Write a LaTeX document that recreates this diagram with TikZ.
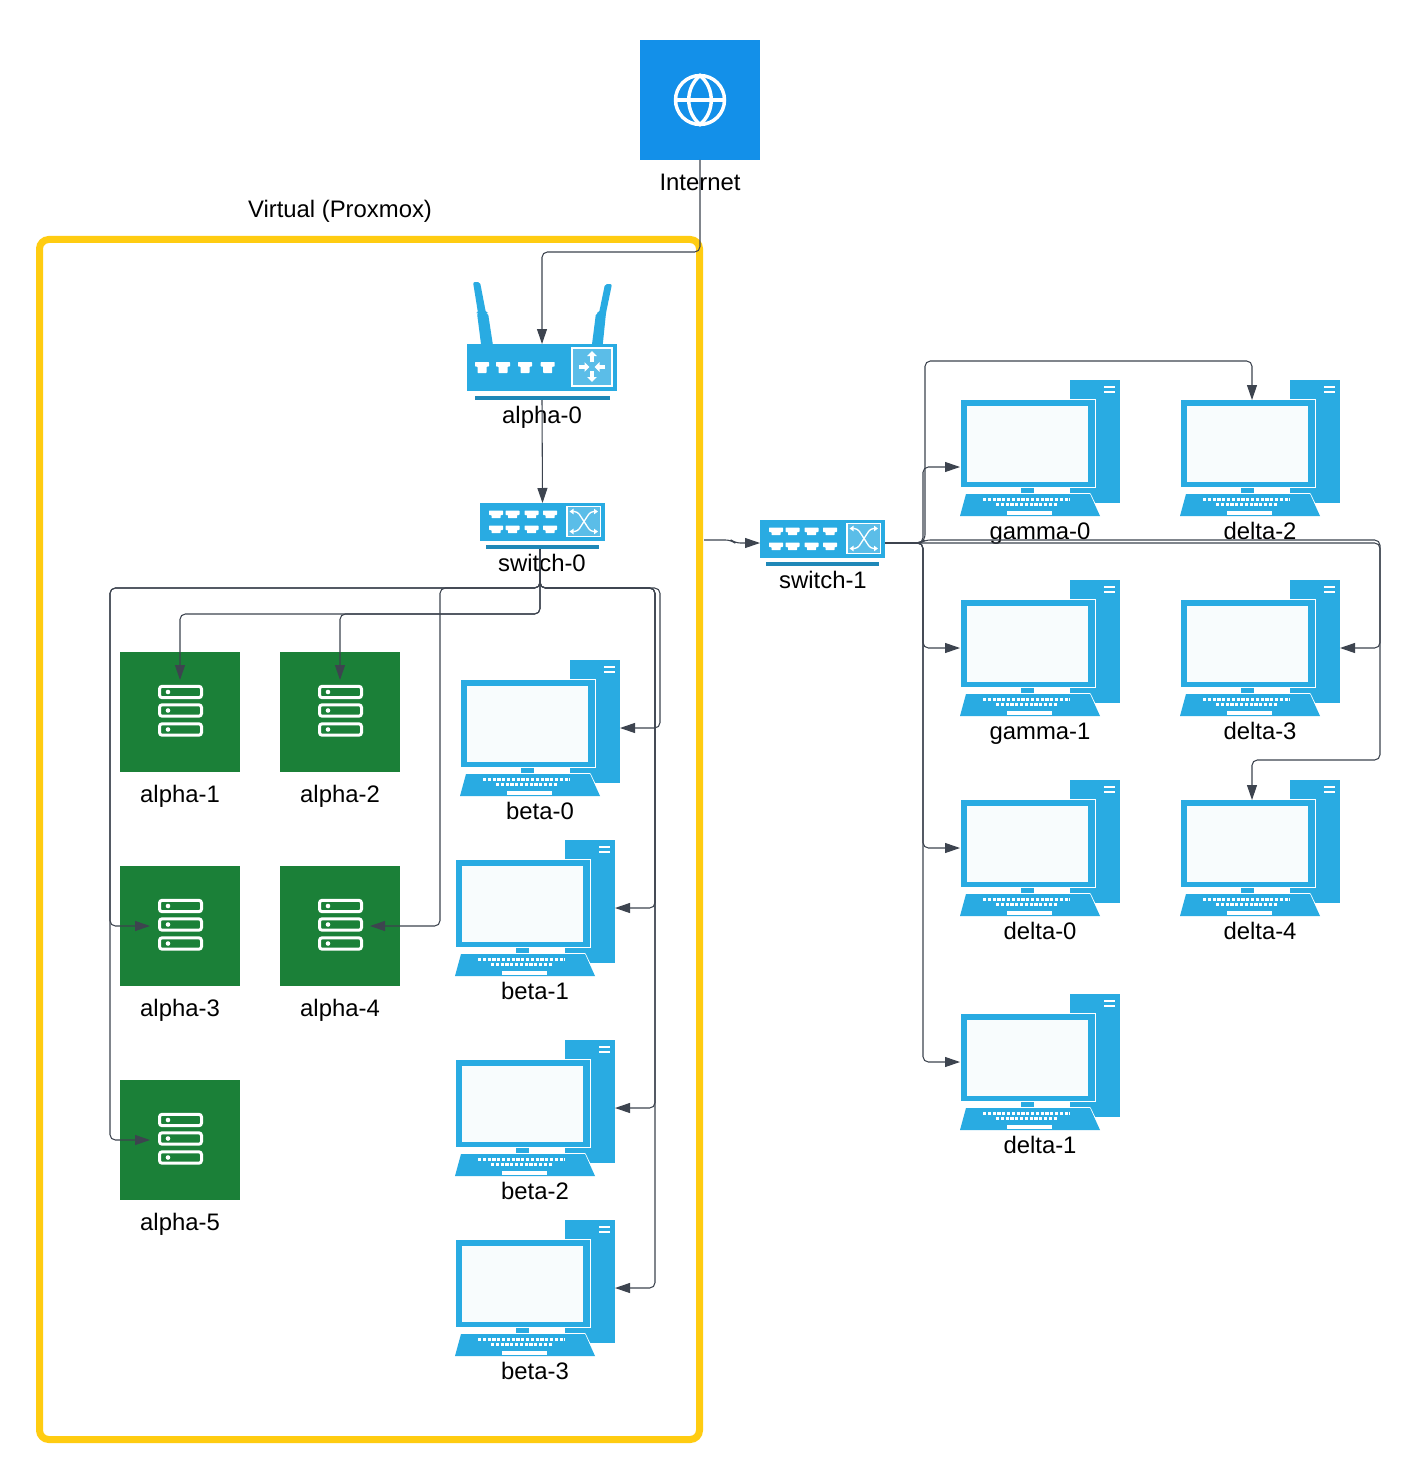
\documentclass[tikz,border=0pt]{standalone}
\usepackage{fontspec}
\setmainfont{Liberation Sans}
\usetikzlibrary{arrows.meta}

\definecolor{hostblue}{HTML}{29ABE2}
\definecolor{hostdark}{HTML}{1F88B8}
\definecolor{hostpale}{HTML}{5BBDE8}
\definecolor{screenwhite}{HTML}{F8FCFD}
\definecolor{webblue}{HTML}{1390E9}
\definecolor{servergreen}{HTML}{1B8038}
\definecolor{frameyellow}{HTML}{FFCC11}
\definecolor{linkgrey}{HTML}{3D444F}

\newcommand{\px}{0.75pt}
\newcommand{\porttee}[3]{\fill[white,rounded corners=0.5pt] (#1,#2) ++(-7,0) -- ++(14,0) -- ++(0,4.5) -- ++(-2.5,0) -- ++(0,#3) -- ++(-9,0) -- ++(0,-#3) -- ++(-2.5,0) -- cycle;}

\tikzset{
	lbl/.style = {inner sep = 0pt, font = \fontsize{17.9pt}{20pt}\selectfont, text height = 14.5pt, text depth = 3pt},
	hostbox/.style = {inner sep = 0pt, outer sep = 0pt, minimum width = 160*\px, minimum height = 136*\px},
	serverbox/.style = {fill = servergreen, inner sep = 0pt, outer sep = 0pt, minimum size = 120*\px},
	servercore/.style = {inner sep = 0pt, outer sep = 0pt, minimum width = 60*\px, minimum height = 64*\px},
	link/.style = {draw = linkgrey, line width = 0.8pt, rounded corners = 4pt, -{Triangle[width=7.5pt,length=11.25pt]}},
	pics/desktopicon/.style = {code = {
		\fill[hostblue] (30,-68) rectangle (80,55);
		\fill[white] (-80,-49) rectangle (56,40);
		\fill[hostblue] (-79,-48) rectangle (55,39);
		\fill[screenwhite] (-73,-42) rectangle (48,34);
		\draw[white,line width = 1.5pt] (64,-61) -- (75,-61) (64,-56) -- (75,-56);
		\fill[hostblue] (-19,39.5) rectangle (-6,45);
		\draw[white,line width = 0.8pt] (50,45.5) -- (61,68.5);
		\fill[white] (30,45) rectangle (50,46);
		\fill[hostblue] (-74,46) -- (50,46) -- (60,68) -- (-80,68) -- cycle;
		\draw[white,line width = 1.8pt,dash pattern = on 2.4pt off 1.2pt] (-57,51.5) -- (30,51.5);
		\draw[white,line width = 1.8pt,dash pattern = on 2.4pt off 1.2pt] (-44,56.5) -- (18,56.5);
		\fill[white] (-33,62.5) rectangle (12,67);
	}},
	pics/servericon/.style = {code = {
		\foreach \rowy in {-20,-1.5,17.5} {
			\draw[white,line width = 2.25pt,rounded corners = 2pt] (-21,\rowy-5.7) ++(0.5,0) rectangle ++(42,11.4);
			\fill[white] (-12,\rowy) circle (2.3);
		}
	}},
	pics/globeicon/.style = {code = {
		\draw[white,line width = 2.6pt] (0,0) circle (24.5);
		\draw[white,line width = 2.6pt] (0,-24.5) .. controls (15,-12) and (15,12) .. (0,24.5) .. controls (-15,12) and (-15,-12) .. (0,-24.5) -- cycle;
		\draw[white,line width = 2.6pt] (-24.5,0) -- (24.5,0);
	}},
	pics/routericon/.style = {code = {
		\fill[hostblue,rounded corners = 1.5pt] (-69,-90) -- (-62,-90) -- (-56,-59) -- (-54,-59) -- (-48,-20) -- (-60,-20) -- (-65,-59) -- (-64,-59) -- cycle;
		\fill[hostblue,rounded corners = 1.5pt] (63,-88) -- (70,-88) -- (64,-59) -- (60,-20) -- (49,-20) -- (54,-59) -- (57,-59) -- cycle;
		\fill[hostblue] (-75,-28) rectangle (75,19);
		\fill[hostdark] (-67.5,24) rectangle (67.5,28);
		\foreach \portx in {-60,-39,-17,5.7} {\porttee{\portx}{-10}{6.5}}
		\fill[hostpale,draw = white,line width = 0.8pt] (30,-24) rectangle (70,14);
		\begin{scope}[white,line width = 2.6pt,-{Triangle[width=7pt,length=3.75pt]}]
			\draw (50,-10) -- (50,-21);
			\draw (50,-1) -- (50,10);
			\draw (37,-5) -- (47.5,-5);
			\draw (63,-5) -- (52.5,-5);
		\end{scope}
	}},
	pics/switchicon/.style = {code = {
		\fill[hostblue] (-62.5,-23) rectangle (62.5,15);
		\fill[hostdark] (-56.5,19) rectangle (56.5,23);
		\foreach \portx in {-46.5,-30,-11,7.5} {
			\porttee{\portx}{-15.5}{3.2}
			\porttee{\portx}{-0.5}{3.2}
		}
		\fill[hostpale,draw = white,line width = 0.8pt] (24.5,-19.5) rectangle (58,10.5);
		\begin{scope}[white,line width = 1pt,rounded corners = 2.5pt,{Triangle[width=4pt,length=3pt]}-{Triangle[width=4pt,length=3pt]}]
			\draw (27,-14.5) -- (35,-14.5) -- (48,5.5) -- (55.5,5.5);
			\draw (27,5.5) -- (35,5.5) -- (48,-14.5) -- (55.5,-14.5);
		\end{scope}
	}}
}

\newcommand{\desktop}[4]{
	\node[hostbox] (#1) at (#2,#3) {};
	\pic at (#1) {desktopicon};
	\node[lbl] (#1label) at (#2,#3+84) {#4};
}
\newcommand{\server}[4]{
	\node[serverbox] (#1) at (#2,#3) {};
	\node[servercore] (#1core) at (#1) {};
	\pic at (#1) {servericon};
	\node[lbl] (#1label) at (#2,#3+83) {#4};
}

\begin{document}
\begin{tikzpicture}[x=0.75pt,y=-0.75pt]
	\useasboundingbox[fill=white] (0,0) rectangle (1420,1480);

	\node[draw=frameyellow,line width=5.25pt,rounded corners=7pt,inner sep=0pt,outer sep=0pt,minimum width=660*\px,minimum height=1200*\px] (frame) at (369.5,839.5) {};
	\node[lbl] (framelabel) at (340,210) {Virtual (Proxmox)};

	\node[fill=webblue,inner sep=0pt,outer sep=0pt,minimum size=120*\px] (internet) at (700,100) {};
	\pic at (internet) {globeicon};
	\node[lbl] (internetlabel) at (700,183) {Internet};

	\node[inner sep=0pt,outer sep=0pt,minimum width=150*\px,minimum height=56*\px] (alpha0) at (542,372) {};
	\pic at (alpha0) {routericon};
	\node[lbl] (alpha0label) at (542,416) {alpha-0};

	\node[inner sep=0pt,outer sep=0pt,minimum width=125*\px,minimum height=46*\px] (switch0) at (542.5,526) {};
	\pic at (switch0) {switchicon};
	\node[lbl] (switch0label) at (542,564) {switch-0};

	\node[inner sep=0pt,outer sep=0pt,minimum width=125*\px,minimum height=46*\px] (switch1) at (822.5,543) {};
	\pic at (switch1) {switchicon};
	\node[lbl] (switch1label) at (823,581) {switch-1};

	\server{alpha1}{180}{712}{alpha-1}
	\server{alpha2}{340}{712}{alpha-2}
	\server{alpha3}{180}{926}{alpha-3}
	\server{alpha4}{340}{926}{alpha-4}
	\server{alpha5}{180}{1140}{alpha-5}

	\desktop{beta0}{540}{728}{beta-0}
	\desktop{beta1}{535}{908}{beta-1}
	\desktop{beta2}{535}{1108}{beta-2}
	\desktop{beta3}{535}{1288}{beta-3}
	\desktop{gamma0}{1040}{448}{gamma-0}
	\desktop{gamma1}{1040}{648}{gamma-1}
	\desktop{delta0}{1040}{848}{delta-0}
	\desktop{delta1}{1040}{1062}{delta-1}
	\desktop{delta2}{1260}{448}{delta-2}
	\desktop{delta3}{1260}{648}{delta-3}
	\desktop{delta4}{1260}{848}{delta-4}

	\coordinate (switch0out) at (540,549);
	\coordinate (uplink) at (704,540);
	\coordinate (gamma0in) at (960,467);
	\coordinate (delta2in) at (1252,400);
	\coordinate (delta4in) at (1252,800);

	\draw[link] (internet.south) |- (542,252) -- (alpha0.north);
	\draw[link] (alpha0.south) -- (switch0.north);

	\draw[link] (switch0out) |- (180,614) -- (alpha1core.north);
	\draw[link] (switch0out) |- (340,614) -- (alpha2core.north);
	\draw[link] (switch0out) |- (110,588) |- (alpha3core.west);
	\draw[link] (switch0out) |- (440,588) |- (alpha4core.east);
	\draw[link] (switch0out) |- (110,588) |- (alpha5core.west);
	\draw[link] (switch0out) |- (660,588) |- (beta0.east);
	\draw[link] (switch0out) |- (655,588) |- (beta1.east);
	\draw[link] (switch0out) |- (655,588) |- (beta2.east);
	\draw[link] (switch0out) |- (655,588) |- (beta3.east);

	\draw[link] (uplink) -- (731,540) -- (735,543) -- (switch1.west);

	\draw[link] (switch1.east) -| (923,467) -- (gamma0in);
	\draw[link] (switch1.east) -| (923,648) -- (gamma1.west);
	\draw[link] (switch1.east) -| (923,848) -- (delta0.west);
	\draw[link] (switch1.east) -| (923,1062) -- (delta1.west);
	\draw[link] (switch1.east) -- (920,543) -- (925,540) |- (1252,361) -- (delta2in);
	\draw[link] (switch1.east) -| (1380,648) -- (delta3.east);
	\draw[link] (switch1.east) -- (920,543) -- (925,540) -| (1380,760) -| (delta4in);
\end{tikzpicture}
\end{document}
